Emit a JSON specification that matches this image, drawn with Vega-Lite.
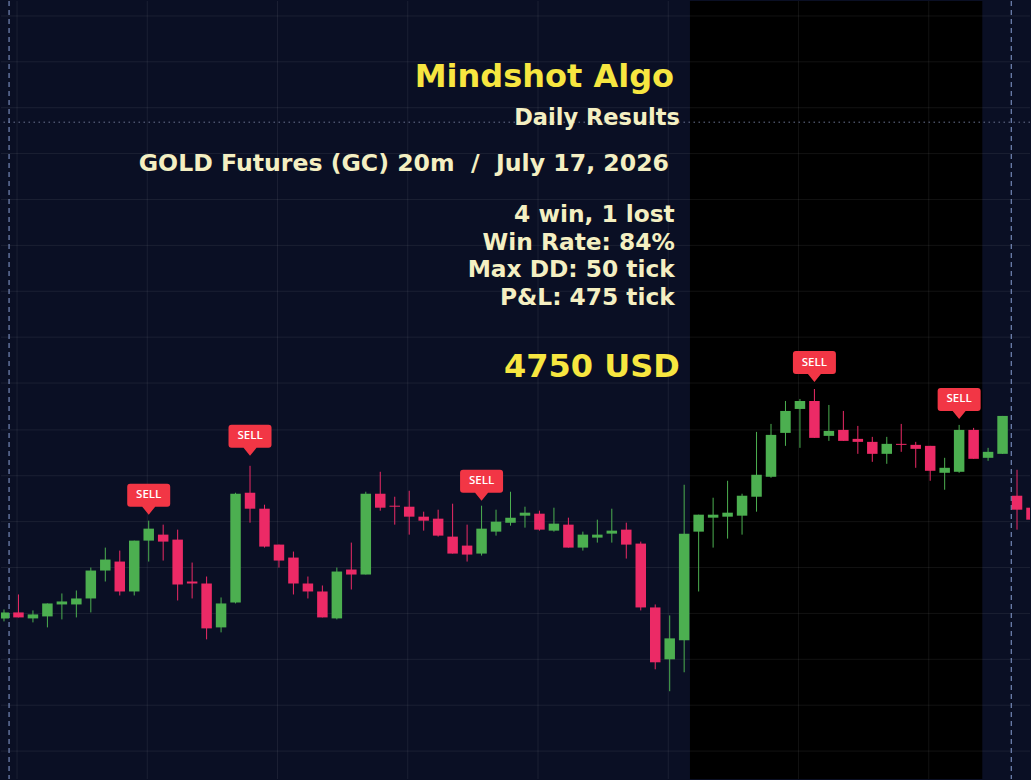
{
  "$schema": "https://vega.github.io/schema/vega-lite/v6.json",
  "width": 1031,
  "height": 780,
  "padding": 0,
  "autosize": {"type": "fit", "contains": "padding"},
  "background": "#0a0f24",
  "config": {"view": {"stroke": null}, "axis": {"disable": true}, "scale": {"continuousPadding": 0}},
  "datasets": {
    "candles": [
      {"i":0,"o":3338.1,"h":3339.0,"l":3337.8,"c":3338.7},
      {"i":1,"o":3338.7,"h":3340.5,"l":3338.2,"c":3338.2},
      {"i":2,"o":3338.1,"h":3338.9,"l":3337.7,"c":3338.5},
      {"i":3,"o":3338.3,"h":3339.6,"l":3337.2,"c":3339.6},
      {"i":4,"o":3339.5,"h":3340.6,"l":3338.0,"c":3339.8},
      {"i":5,"o":3339.5,"h":3340.9,"l":3338.2,"c":3340.1},
      {"i":6,"o":3340.1,"h":3343.2,"l":3338.7,"c":3342.9},
      {"i":7,"o":3342.9,"h":3345.2,"l":3341.8,"c":3344.0},
      {"i":8,"o":3343.8,"h":3344.9,"l":3340.4,"c":3340.8},
      {"i":9,"o":3340.8,"h":3345.9,"l":3340.4,"c":3345.9},
      {"i":10,"o":3345.9,"h":3347.9,"l":3343.8,"c":3347.1},
      {"i":11,"o":3346.5,"h":3347.5,"l":3343.9,"c":3345.8},
      {"i":12,"o":3346.0,"h":3347.0,"l":3339.9,"c":3341.5},
      {"i":13,"o":3341.8,"h":3343.7,"l":3340.1,"c":3341.6},
      {"i":14,"o":3341.6,"h":3342.3,"l":3336.0,"c":3337.1},
      {"i":15,"o":3337.2,"h":3340.2,"l":3336.7,"c":3339.6},
      {"i":16,"o":3339.7,"h":3350.7,"l":3339.6,"c":3350.6},
      {"i":17,"o":3350.7,"h":3353.4,"l":3347.7,"c":3349.1},
      {"i":18,"o":3349.1,"h":3349.5,"l":3345.2,"c":3345.3},
      {"i":19,"o":3345.5,"h":3345.5,"l":3343.2,"c":3343.9},
      {"i":20,"o":3344.2,"h":3344.8,"l":3340.5,"c":3341.6},
      {"i":21,"o":3341.6,"h":3342.3,"l":3340.1,"c":3340.8},
      {"i":22,"o":3340.8,"h":3341.4,"l":3338.2,"c":3338.2},
      {"i":23,"o":3338.1,"h":3343.2,"l":3338.0,"c":3342.8},
      {"i":24,"o":3343.0,"h":3345.7,"l":3341.0,"c":3342.5},
      {"i":25,"o":3342.5,"h":3350.8,"l":3342.5,"c":3350.6},
      {"i":26,"o":3350.6,"h":3352.8,"l":3348.9,"c":3349.2},
      {"i":27,"o":3349.4,"h":3350.3,"l":3347.5,"c":3349.3},
      {"i":28,"o":3349.3,"h":3350.9,"l":3346.5,"c":3348.3},
      {"i":29,"o":3348.3,"h":3348.8,"l":3346.9,"c":3347.9},
      {"i":30,"o":3348.1,"h":3349.0,"l":3346.3,"c":3346.4},
      {"i":31,"o":3346.3,"h":3349.6,"l":3344.6,"c":3344.6},
      {"i":32,"o":3345.4,"h":3347.5,"l":3343.8,"c":3344.5},
      {"i":33,"o":3344.6,"h":3349.4,"l":3344.4,"c":3347.1},
      {"i":34,"o":3346.8,"h":3349.0,"l":3346.4,"c":3347.8},
      {"i":35,"o":3347.7,"h":3350.8,"l":3347.4,"c":3348.2},
      {"i":36,"o":3348.4,"h":3349.3,"l":3347.2,"c":3348.7},
      {"i":37,"o":3348.6,"h":3348.9,"l":3346.9,"c":3347.0},
      {"i":38,"o":3346.9,"h":3349.2,"l":3346.8,"c":3347.6},
      {"i":39,"o":3347.5,"h":3348.2,"l":3345.2,"c":3345.2},
      {"i":40,"o":3345.2,"h":3346.8,"l":3344.9,"c":3346.5},
      {"i":41,"o":3346.2,"h":3348.0,"l":3345.7,"c":3346.5},
      {"i":42,"o":3346.6,"h":3349.1,"l":3345.7,"c":3346.9},
      {"i":43,"o":3347.0,"h":3347.7,"l":3344.1,"c":3345.5},
      {"i":44,"o":3345.6,"h":3345.8,"l":3338.9,"c":3339.2},
      {"i":45,"o":3339.2,"h":3339.5,"l":3333.0,"c":3333.7},
      {"i":46,"o":3334.0,"h":3338.4,"l":3330.8,"c":3336.1},
      {"i":47,"o":3335.9,"h":3351.5,"l":3332.7,"c":3346.6},
      {"i":48,"o":3346.8,"h":3348.5,"l":3340.8,"c":3348.5},
      {"i":49,"o":3348.2,"h":3350.2,"l":3345.2,"c":3348.5},
      {"i":50,"o":3348.3,"h":3351.9,"l":3346.1,"c":3348.7},
      {"i":51,"o":3348.4,"h":3350.6,"l":3346.5,"c":3350.4},
      {"i":52,"o":3350.3,"h":3356.8,"l":3348.8,"c":3352.5},
      {"i":53,"o":3352.3,"h":3357.6,"l":3352.2,"c":3356.5},
      {"i":54,"o":3356.7,"h":3359.9,"l":3355.4,"c":3358.9},
      {"i":55,"o":3359.1,"h":3360.1,"l":3355.2,"c":3359.9},
      {"i":56,"o":3359.9,"h":3361.1,"l":3356.2,"c":3356.2},
      {"i":57,"o":3356.4,"h":3359.5,"l":3355.9,"c":3356.9},
      {"i":58,"o":3357.0,"h":3358.9,"l":3355.9,"c":3355.9},
      {"i":59,"o":3356.1,"h":3357.4,"l":3354.6,"c":3355.8},
      {"i":60,"o":3355.8,"h":3356.3,"l":3353.8,"c":3354.6},
      {"i":61,"o":3354.6,"h":3356.3,"l":3353.6,"c":3355.6},
      {"i":62,"o":3355.6,"h":3357.6,"l":3354.8,"c":3355.5},
      {"i":63,"o":3355.5,"h":3355.8,"l":3353.2,"c":3355.1},
      {"i":64,"o":3355.4,"h":3355.4,"l":3351.9,"c":3352.9},
      {"i":65,"o":3352.7,"h":3354.2,"l":3351.0,"c":3353.2},
      {"i":66,"o":3352.8,"h":3357.5,"l":3352.7,"c":3357.0},
      {"i":67,"o":3357.0,"h":3357.2,"l":3354.1,"c":3354.1},
      {"i":68,"o":3354.2,"h":3355.2,"l":3353.9,"c":3354.8},
      {"i":69,"o":3354.6,"h":3358.4,"l":3354.6,"c":3358.4},
      {"i":70,"o":3350.4,"h":3353.0,"l":3347.0,"c":3349.0},
      {"i":71,"o":3349.2,"h":3349.6,"l":3347.2,"c":3348.0}
    ],
    "signals": [
      {"i":10,"p":3348.5,"label":"SELL"},
      {"i":17,"p":3354.4,"label":"SELL"},
      {"i":33,"p":3349.9,"label":"SELL"},
      {"i":56,"p":3361.8,"label":"SELL"},
      {"i":66,"p":3358.1,"label":"SELL"}
    ],
    "session": [{"start":47.4,"end":67.6}],
    "hgrid": [
      {"p":3398.5},{"p":3393.9},{"p":3389.3},{"p":3384.7},{"p":3380.1},{"p":3375.5},
      {"p":3370.9},{"p":3366.3},{"p":3361.7},{"p":3357.0},{"p":3352.4},{"p":3347.8},
      {"p":3343.2},{"p":3338.6},{"p":3334.0},{"p":3329.4},{"p":3324.8}
    ],
    "vgrid": [{"i":0.9},{"i":9.9},{"i":18.9},{"i":27.9},{"i":36.9},{"i":45.9},{"i":54.9},{"i":63.9}],
    "breaks": [{"i":0.35},{"i":69.6}],
    "level": [{"p":3387.85}],
    "notes": [
      {"i":46.3,"p":3391.4,"text":"Mindshot Algo","kind":"big"},
      {"i":46.7,"p":3387.6,"text":"Daily Results","kind":"sub"},
      {"i":45.95,"p":3383.0,"text":"GOLD Futures (GC) 20m\u00a0 / \u00a0July 17, 2026","kind":"head"},
      {"i":46.35,"p":3377.8,"text":"4 win, 1 lost","kind":"stat"},
      {"i":46.35,"p":3375.0,"text":"Win Rate: 84%","kind":"stat"},
      {"i":46.35,"p":3372.3,"text":"Max DD: 50 tick","kind":"stat"},
      {"i":46.35,"p":3369.5,"text":"P&L: 475 tick","kind":"stat"},
      {"i":46.7,"p":3362.3,"text":"4750 USD","kind":"big"}
    ]
  },
  "layer": [
    {
      "data": {"name": "session"},
      "mark": {"type": "rect", "color": "#000000", "clip": true},
      "encoding": {
        "x": {"field": "start", "type": "quantitative", "scale": {"domain": [-0.2069, 70.8966], "nice": false, "zero": false, "padding": 0}},
        "x2": {"field": "end"}
      }
    },
    {
      "data": {"name": "hgrid"},
      "mark": {"type": "rule", "color": "#ffffff", "opacity": 0.07, "strokeWidth": 1},
      "encoding": {
        "y": {"field": "p", "type": "quantitative", "scale": {"domain": [3322, 3400], "nice": false, "zero": false, "padding": 0}}
      }
    },
    {
      "data": {"name": "vgrid"},
      "mark": {"type": "rule", "color": "#ffffff", "opacity": 0.07, "strokeWidth": 1},
      "encoding": {
        "x": {"field": "i", "type": "quantitative", "scale": {"domain": [-0.2069, 70.8966], "nice": false, "zero": false, "padding": 0}}
      }
    },
    {
      "data": {"name": "level"},
      "mark": {"type": "rule", "color": "#6b7390", "strokeWidth": 1, "strokeDash": [1.5, 3.5]},
      "encoding": {
        "y": {"field": "p", "type": "quantitative"}
      }
    },
    {
      "data": {"name": "breaks"},
      "mark": {"type": "rule", "color": "#8aa0d6", "strokeWidth": 1, "strokeDash": [5, 4]},
      "encoding": {
        "x": {"field": "i", "type": "quantitative"}
      }
    },
    {
      "data": {"name": "candles"},
      "mark": {"type": "rule", "strokeWidth": 1, "clip": true},
      "encoding": {
        "x": {"field": "i", "type": "quantitative", "scale": {"domain": [-0.2069, 70.8966], "nice": false, "zero": false, "padding": 0}},
        "y": {"field": "l", "type": "quantitative"},
        "y2": {"field": "h"},
        "color": {"condition": {"test": "datum.o > datum.c", "value": "#ec2a66"}, "value": "#4caf50"}
      }
    },
    {
      "data": {"name": "candles"},
      "mark": {"type": "bar", "width": 10.5, "clip": true},
      "encoding": {
        "x": {"field": "i", "type": "quantitative", "scale": {"domain": [-0.2069, 70.8966], "nice": false, "zero": false, "padding": 0}},
        "y": {"field": "o", "type": "quantitative"},
        "y2": {"field": "c"},
        "color": {"condition": {"test": "datum.o > datum.c", "value": "#ec2a66"}, "value": "#4caf50"}
      }
    },
    {
      "data": {"name": "signals"},
      "mark": {
        "type": "point",
        "filled": true,
        "opacity": 1,
        "color": "#f23645",
        "size": 1849,
        "shape": "M 0 0 L -0.302 -0.372 L -0.86 -0.372 Q -1 -0.372 -1 -0.512 L -1 -1.302 Q -1 -1.442 -0.86 -1.442 L 0.86 -1.442 Q 1 -1.442 1 -1.302 L 1 -0.512 Q 1 -0.372 0.86 -0.372 L 0.302 -0.372 Z"
      },
      "encoding": {
        "x": {"field": "i", "type": "quantitative"},
        "y": {"field": "p", "type": "quantitative"}
      }
    },
    {
      "data": {"name": "signals"},
      "mark": {"type": "text", "color": "#ffffff", "font": "Open Sans", "fontSize": 11.5, "fontWeight": 600, "baseline": "middle", "align": "center", "dy": -19.5},
      "encoding": {
        "x": {"field": "i", "type": "quantitative"},
        "y": {"field": "p", "type": "quantitative"},
        "text": {"field": "label"}
      }
    },
    {
      "data": {"name": "notes"},
      "transform": [{"filter": "datum.kind == 'big'"}],
      "mark": {"type": "text", "color": "#f7e640", "font": "DejaVu Sans", "fontSize": 32, "fontWeight": "bold", "align": "right", "baseline": "alphabetic"},
      "encoding": {
        "x": {"field": "i", "type": "quantitative"},
        "y": {"field": "p", "type": "quantitative"},
        "text": {"field": "text"}
      }
    },
    {
      "data": {"name": "notes"},
      "transform": [{"filter": "datum.kind == 'sub'"}],
      "mark": {"type": "text", "color": "#f4efc2", "font": "DejaVu Sans", "fontSize": 22.5, "fontWeight": "bold", "align": "right", "baseline": "alphabetic"},
      "encoding": {
        "x": {"field": "i", "type": "quantitative"},
        "y": {"field": "p", "type": "quantitative"},
        "text": {"field": "text"}
      }
    },
    {
      "data": {"name": "notes"},
      "transform": [{"filter": "datum.kind == 'head'"}],
      "mark": {"type": "text", "color": "#f4efc2", "font": "DejaVu Sans", "fontSize": 23.6, "fontWeight": "bold", "align": "right", "baseline": "alphabetic"},
      "encoding": {
        "x": {"field": "i", "type": "quantitative"},
        "y": {"field": "p", "type": "quantitative"},
        "text": {"field": "text"}
      }
    },
    {
      "data": {"name": "notes"},
      "transform": [{"filter": "datum.kind == 'stat'"}],
      "mark": {"type": "text", "color": "#f4efc2", "font": "DejaVu Sans", "fontSize": 23.3, "fontWeight": "bold", "align": "right", "baseline": "alphabetic"},
      "encoding": {
        "x": {"field": "i", "type": "quantitative"},
        "y": {"field": "p", "type": "quantitative"},
        "text": {"field": "text"}
      }
    }
  ]
}
